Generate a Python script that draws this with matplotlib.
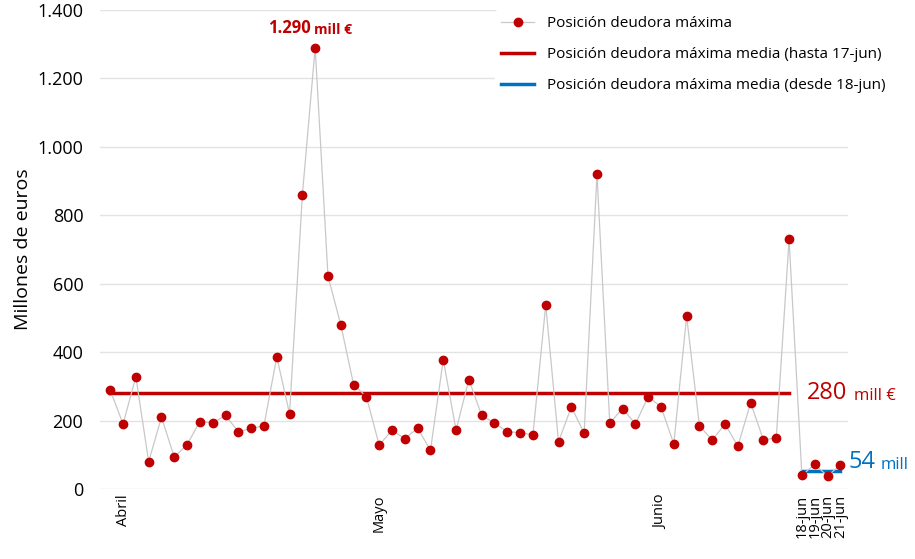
import matplotlib
matplotlib.use("Agg")
import matplotlib.pyplot as plt
from matplotlib.ticker import FuncFormatter

plt.rcParams["font.family"] = "Open Sans"

values = [289, 190, 328, 80, 210, 93, 130, 197, 193, 215, 167, 177, 185, 386, 220,
          860, 1290, 622, 480, 305, 270, 128, 172, 147, 178, 113, 378, 172, 320, 215,
          193, 167, 165, 158, 538, 138, 240, 163, 920, 193, 235, 190, 270, 240, 132,
          505, 185, 143, 190, 125, 252, 143, 150, 730, 40, 72, 38, 70]
tick_pos = [1, 21, 43, 54, 55, 56, 57]
tick_labels = ["Abril", "Mayo", "Junio", "18-jun", "19-jun", "20-jun", "21-jun"]
mean_before = 280
mean_after = 54
split_idx = 54

fig = plt.figure(figsize=(9.15, 5.59), dpi=100)
ax = fig.add_axes([100/915, 1-489/559, 748/915, 479/559])
x = list(range(len(values)))
ax.plot(x, values, color="#c8c8c8", lw=0.9, marker="o", ms=6,
        mfc="#c00000", mec="#c00000", label="Posición deudora máxima", zorder=3)
ax.plot([0, split_idx - 1], [mean_before]*2, color="#c00000", lw=2.5,
        label="Posición deudora máxima media (hasta 17-jun)", zorder=2)
ax.plot([split_idx, len(values) - 1], [mean_after]*2, color="#0070c0", lw=2.5,
        label="Posición deudora máxima media (desde 18-jun)", zorder=2)

ax.set_xlim(-0.8, len(values) - 0.4)
ax.set_ylim(0, 1400)
ax.set_yticks(range(0, 1401, 200))
ax.yaxis.set_major_formatter(FuncFormatter(lambda v, p: f"{int(v):,}".replace(",", ".")))
ax.grid(axis="y", color="#e3e3e3", lw=1)
ax.set_axisbelow(True)
for s in ax.spines.values():
    s.set_visible(False)
ax.tick_params(axis="y", length=0, labelsize=13, pad=12)
ax.set_xticks(tick_pos)
ax.set_xticklabels(tick_labels, rotation=90, fontsize=10.5)
ax.tick_params(axis="x", length=0, pad=4)
ax.set_ylabel("Millones de euros", fontsize=14)

ax.annotate("1.290", xy=(16, 1290), xytext=(-3, 8), textcoords="offset points",
            ha="right", va="bottom", color="#c00000", fontsize=12, fontweight="bold")
ax.annotate("mill €", xy=(16, 1290), xytext=(-1, 8), textcoords="offset points",
            ha="left", va="bottom", color="#c00000", fontsize=10, fontweight="bold")
ax.annotate("280", xy=(len(values) - 1, 280), xytext=(-24, 0), textcoords="offset points",
            color="#c00000", fontsize=17, ha="left", va="center", annotation_clip=False)
ax.annotate("mill €", xy=(len(values) - 1, 280), xytext=(10, -2), textcoords="offset points",
            color="#c00000", fontsize=12, ha="left", va="center", annotation_clip=False)
ax.annotate("54", xy=(len(values) - 1, 54), xytext=(6, 6), textcoords="offset points",
            color="#0070c0", fontsize=17, ha="left", va="center", annotation_clip=False)
ax.annotate("mill", xy=(len(values) - 1, 54), xytext=(29, 4), textcoords="offset points",
            color="#0070c0", fontsize=12, ha="left", va="center", annotation_clip=False)

leg = fig.legend(loc="upper left", bbox_to_anchor=(490/915, 0.99), frameon=True,
                 fontsize=11, handlelength=2.2, labelspacing=1.05, borderaxespad=0.3)
leg.get_frame().set_edgecolor("white")
leg.get_frame().set_facecolor("white")
leg.get_frame().set_alpha(1)

fig.savefig("out.png", dpi=100)
